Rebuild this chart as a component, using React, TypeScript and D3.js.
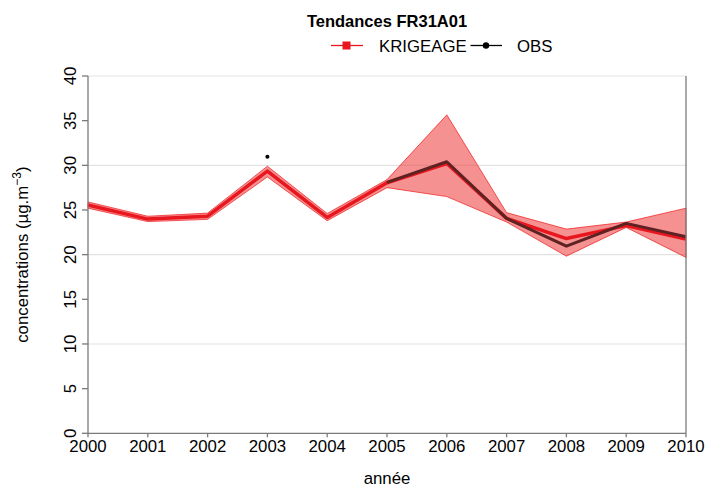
import React from "react";
import * as d3 from "d3";

const years = [2000, 2001, 2002, 2003, 2004, 2005, 2006, 2007, 2008, 2009, 2010];
const krigeage = [25.55, 23.98, 24.31, 29.36, 24.17, 28.05, 30.2, 24.06, 21.8, 23.25, 21.74];
const krigLower = [25.2, 23.7, 23.95, 28.7, 23.8, 27.5, 26.5, 23.65, 19.83, 23.05, 19.69];
const krigUpper = [25.9, 24.3, 24.65, 29.9, 24.6, 28.4, 35.65, 24.7, 22.86, 23.65, 25.2];
const obsYears = [2003, 2005, 2006, 2007, 2008, 2009, 2010];
const obsValues = [30.96, 28.1, 30.4, 24.06, 20.95, 23.5, 22.0];
const yTicks = [0, 5, 10, 15, 20, 25, 30, 35, 40];
const gridValues = [10, 20, 30, 40];

const W = 708;
const H = 488;
const FONT = "'Liberation Sans', Arial, sans-serif";
const FS = 16.8;

export default function App() {
  const x = d3.scaleLinear().domain([2000, 2010]).range([88, 686]);
  const y = d3.scaleLinear().domain([0, 40]).range([433.3, 76]);

  const area = d3
    .area<number>()
    .x((_, i) => x(years[i]))
    .y0((_, i) => y(krigLower[i]))
    .y1((_, i) => y(krigUpper[i]));

  const krigLine = d3
    .line<number>()
    .x((_, i) => x(years[i]))
    .y((d) => y(d));

  const obsLinePts = obsYears
    .map((yr, i) => [yr, obsValues[i]] as [number, number])
    .filter((p) => p[0] >= 2005);
  const obsLine = d3
    .line<[number, number]>()
    .x((d) => x(d[0]))
    .y((d) => y(d[1]));
  const isolated = obsYears
    .map((yr, i) => [yr, obsValues[i]] as [number, number])
    .filter((p) => p[0] < 2005);

  return (
    <svg
      width={W}
      height={H}
      style={{ position: "absolute", left: 0, top: 0, background: "#fff" }}
      fontFamily={FONT}
    >
      <rect width={W} height={H} fill="#fff" />
      {gridValues.map((v) => (
        <line key={v} x1={x(2000)} x2={x(2010)} y1={y(v)} y2={y(v)} stroke="#e3e3e3" strokeWidth={1.2} />
      ))}
      <path d={area(krigeage) || ""} fill="rgba(238,45,45,0.52)" stroke="#f01818" strokeWidth={0.7} />
      <path d={krigLine(krigeage) || ""} fill="none" stroke="#e8171f" strokeWidth={3.5} strokeLinejoin="round" />
      <path d={obsLine(obsLinePts) || ""} fill="none" stroke="#5e2222" strokeWidth={3} strokeLinejoin="round" />
      {isolated.map((p, i) => (
        <circle key={i} cx={x(p[0])} cy={y(p[1])} r={2} fill="#000" />
      ))}
      <line x1={x(2000)} x2={x(2000)} y1={y(40)} y2={y(0)} stroke="#7a7a7a" strokeWidth={1.3} />
      <line x1={x(2010)} x2={x(2010)} y1={y(40)} y2={y(0)} stroke="#7a7a7a" strokeWidth={1.3} />
      <line x1={x(2000)} x2={x(2010)} y1={y(0)} y2={y(0)} stroke="#7a7a7a" strokeWidth={1.3} />
      {yTicks.map((v) => (
        <g key={v}>
          <line x1={x(2000) - 6} x2={x(2000)} y1={y(v)} y2={y(v)} stroke="#7a7a7a" strokeWidth={1.3} />
          <text
            transform={`translate(${76},${y(v)}) rotate(-90)`}
            textAnchor="middle"
            fontSize={FS}
            fill="#000"
          >
            {v}
          </text>
        </g>
      ))}
      {years.map((yr) => (
        <g key={yr}>
          <line x1={x(yr)} x2={x(yr)} y1={y(0)} y2={y(0) + 4} stroke="#7a7a7a" strokeWidth={1.3} />
          <text x={x(yr)} y={452} textAnchor="middle" fontSize={FS} fill="#000">
            {yr}
          </text>
        </g>
      ))}
      <text x={387} y={484} textAnchor="middle" fontSize={FS} fill="#000">
        année
      </text>
      <text transform={`translate(28,${(y(0) + y(40)) / 2}) rotate(-90)`} textAnchor="middle" fontSize={FS} fill="#000">
        concentrations (µg.m
        <tspan dy={-7} fontSize={12}>
          −3
        </tspan>
        <tspan dy={7}>)</tspan>
      </text>
      <text x={387} y={27} textAnchor="middle" fontSize={16.5} fontWeight="bold" fill="#000">
        Tendances FR31A01
      </text>
      <line x1={331} x2={363} y1={45.5} y2={45.5} stroke="#e8171f" strokeWidth={1.3} />
      <rect x={342.5} y={41.5} width={8} height={8} fill="#e8171f" />
      <text x={379} y={51.5} fontSize={FS} fill="#000">
        KRIGEAGE
      </text>
      <line x1={470.5} x2={502} y1={45.5} y2={45.5} stroke="#000" strokeWidth={1.3} />
      <circle cx={486} cy={45.5} r={3.2} fill="#000" />
      <text x={517} y={51.5} fontSize={FS} fill="#000">
        OBS
      </text>
    </svg>
  );
}
